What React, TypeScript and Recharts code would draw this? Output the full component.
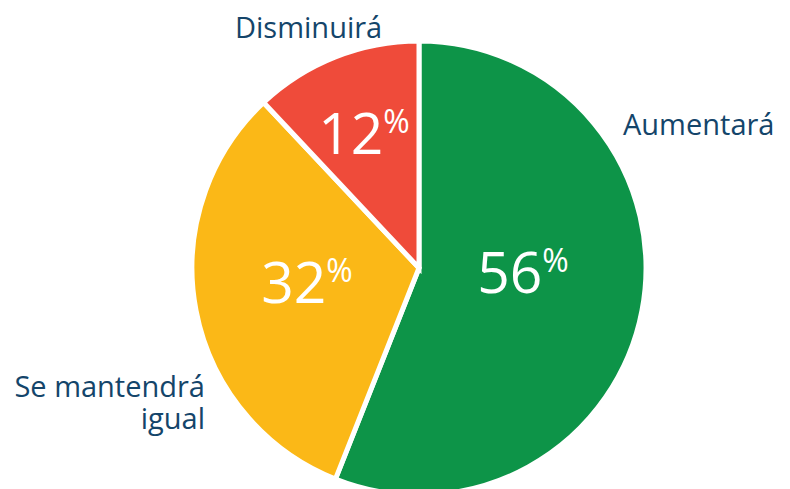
import { PieChart, Pie, Cell } from "recharts";

const categories = ["Aumentará", "Se mantendrá igual", "Disminuirá"];
const shares = [56, 32, 12];
const sliceColors = ["#0D9448", "#FBB817", "#EF4B3A"];

const data = categories.map((name, i) => ({ name, value: shares[i] }));

const TEXT_COLOR = "#14456A";
const FONT = "'Open Sans', 'Noto Sans', sans-serif";

// label offsets relative to the pie centre
const LABEL_LAYOUT: Record<string, { inner: [number, number]; outer: [number, number]; anchor: "start" | "end" }> = {
  "Aumentará": { inner: [104, 25], outer: [204, -133], anchor: "start" },
  "Se mantendrá igual": { inner: [-112, 35], outer: [-214, 129], anchor: "end" },
  "Disminuirá": { inner: [-55, -114], outer: [-184, -230], anchor: "start" },
};

const renderLabel = (props: any) => {
  const { cx, cy, name, value } = props;
  const layout = LABEL_LAYOUT[name];
  if (!layout) return null;
  const [ix, iy] = layout.inner;
  const [ox, oy] = layout.outer;
  const lines = name === "Se mantendrá igual" ? ["Se mantendrá", "igual"] : [name];
  return (
    <g>
      <text x={cx + ix} y={cy + iy} textAnchor="middle" fill="#fff" fontFamily={FONT}>
        <tspan fontSize={57}>{value}</tspan>
        <tspan fontSize={32} dy={-21}>%</tspan>
      </text>
      <text x={cx + ox} y={cy + oy} textAnchor={layout.anchor} fill={TEXT_COLOR} fontFamily={FONT} fontSize={29}>
        {lines.map((line, i) => (
          <tspan key={line} x={cx + ox} dy={i === 0 ? 0 : 32}>
            {line}
          </tspan>
        ))}
      </text>
    </g>
  );
};

export default function App() {
  return (
    <div style={{ position: "absolute", left: 0, top: 0, width: 790, height: 489, background: "#fff" }}>
      <PieChart width={790} height={489} margin={{ top: 0, right: 0, bottom: 0, left: 0 }}>
        <Pie
          data={data}
          dataKey="value"
          nameKey="name"
          cx={419}
          cy={268}
          outerRadius={227}
          startAngle={90}
          endAngle={-270}
          stroke="#fff"
          strokeWidth={5}
          label={renderLabel}
          labelLine={false}
          isAnimationActive={false}
        >
          {data.map((d, i) => (
            <Cell key={d.name} fill={sliceColors[i]} />
          ))}
        </Pie>
      </PieChart>
    </div>
  );
}
